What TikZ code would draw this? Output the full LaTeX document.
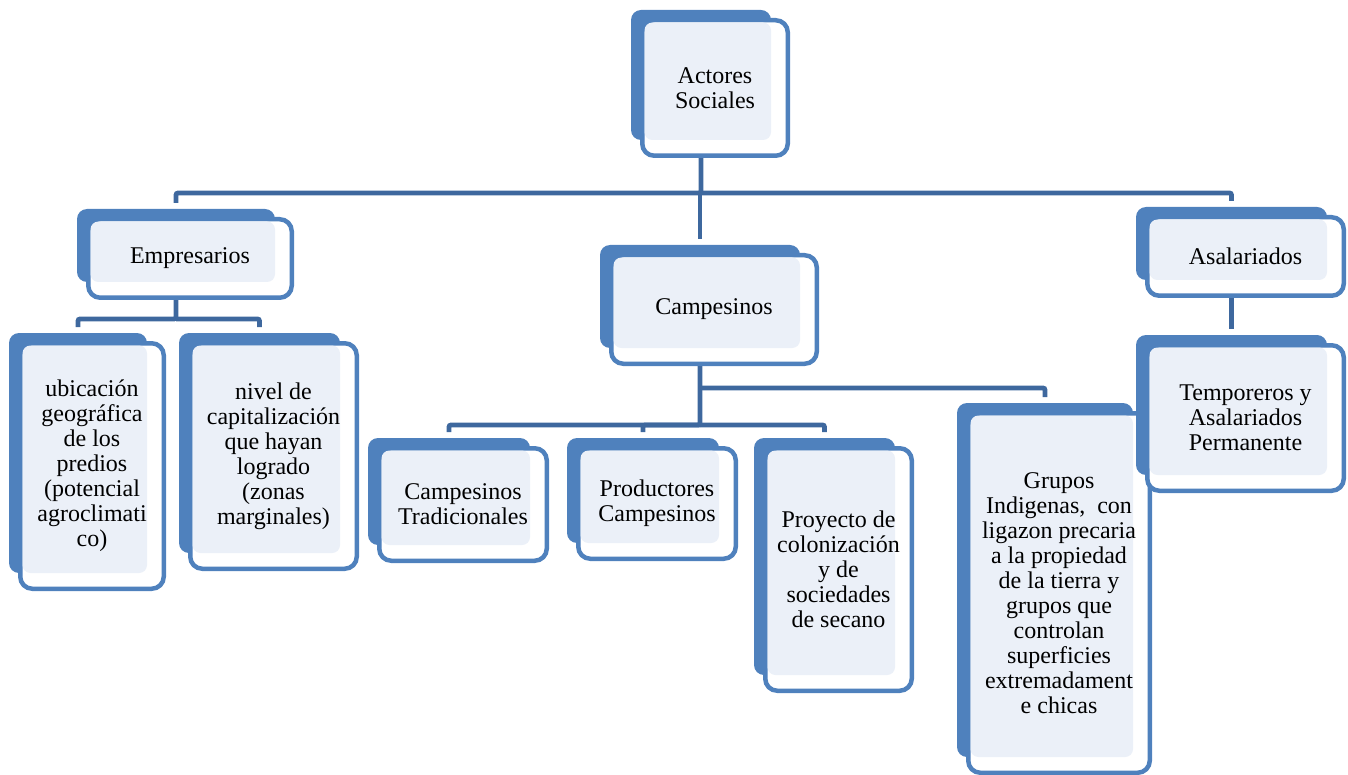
\documentclass[tikz,border=0pt]{standalone}
\usepackage{fontspec}
\setmainfont{Liberation Serif}
\usetikzlibrary{fit,calc}
\pgfdeclarelayer{background}
\pgfsetlayers{background,main}

\newlength{\du}
\setlength{\du}{1pt}

\definecolor{boxblue}{RGB}{79,129,189}
\definecolor{boxlight}{RGB}{235,240,248}
\definecolor{linkblue}{RGB}{62,104,158}

\tikzset{
  backbox/.style={fill=boxblue, rounded corners=10\du, inner sep=0pt, outer sep=0pt},
  frontbox/.style={draw=boxblue, fill=white, line width=4.5\du, rounded corners=12\du, inner sep=0pt},
  lightfill/.style={fill=boxlight, rounded corners=8\du},
  boxtext/.style={align=center, font=\fontsize{24}{25}\selectfont, inner sep=0pt},
  link/.style={draw=linkblue, line width=4.8\du, rounded corners=2\du, shorten >=6\du},
}

% name, x0, y0, x1, y1 (back shape), text
\newcommand{\actorbox}[6]{%
  \node[backbox, fit={(#2,#3) (#4,#5)}] (#1) {};
  \node[frontbox, fit={(#2+11.25,#3+10.25) (#4+16.75,#5+15.75)}] (#1-f) {};
  \fill[lightfill] (#2+13.5,#3+12.5) rectangle (#4,#5);
  \node[boxtext] (#1-t) at (#1-f.center) {#6};
}

\begin{document}
\begin{tikzpicture}[x=1\du, y=-1\du]
\useasboundingbox (0,0) rectangle (1348,775);

\actorbox{act}{631}{10}{771}{140}{Actores\\Sociales}
\actorbox{emp}{77}{209}{275}{282}{Empresarios}
\actorbox{cam}{600}{245}{800}{348}{Campesinos}
\actorbox{asa}{1136}{207}{1327}{280}{Asalariados}

\actorbox{ubi}{9}{333}{147}{573}{ubicación\\geográfica\\de los\\predios\\(potencial\\agroclimati\\co)}
\actorbox{niv}{179}{333}{340}{553}{nivel de\\capitalización\\que hayan\\logrado\\(zonas\\marginales)}
\actorbox{tra}{368}{438}{530}{545}{Campesinos\\Tradicionales}
\actorbox{pro}{567}{438}{719}{543}{Productores\\Campesinos}
\actorbox{pry}{754}{438}{895}{675}{Proyecto de\\colonización\\y de\\sociedades\\de secano}
\actorbox{gru}{957}{403}{1133}{757}{Grupos\\Indigenas,\ \ con\\ligazon precaria\\a la propiedad\\de la tierra y\\grupos que\\controlan\\superficies\\extremadament\\e chicas}
\actorbox{tem}{1136}{335}{1327}{475}{Temporeros y\\Asalariados\\Permanente}

\coordinate (j1) at (700,193);
\coordinate (j2) at (176,319);
\coordinate (j3) at (700,425);
\coordinate (j4) at (700,388);

\begin{pgfonlayer}{background}
\draw[link] (act.south) -- (act.south |- j1) -| (emp.north);
\draw[link] (act.south |- j1) -| (asa.north);
\draw[link] (cam.north |- j1) -- (cam.north);
\draw[link] (emp.south) -- (j2) -| (ubi.north);
\draw[link] (j2) -| (niv.north);
\draw[link] (cam.south) -- (j3) -| (tra.north);
\draw[link] (j3) -| (pro.north);
\draw[link] (j3) -| (pry.north);
\draw[link] (j4) -| (gru.north);
\draw[link] (asa.south) -- (tem.north);
\end{pgfonlayer}
\end{tikzpicture}
\end{document}
